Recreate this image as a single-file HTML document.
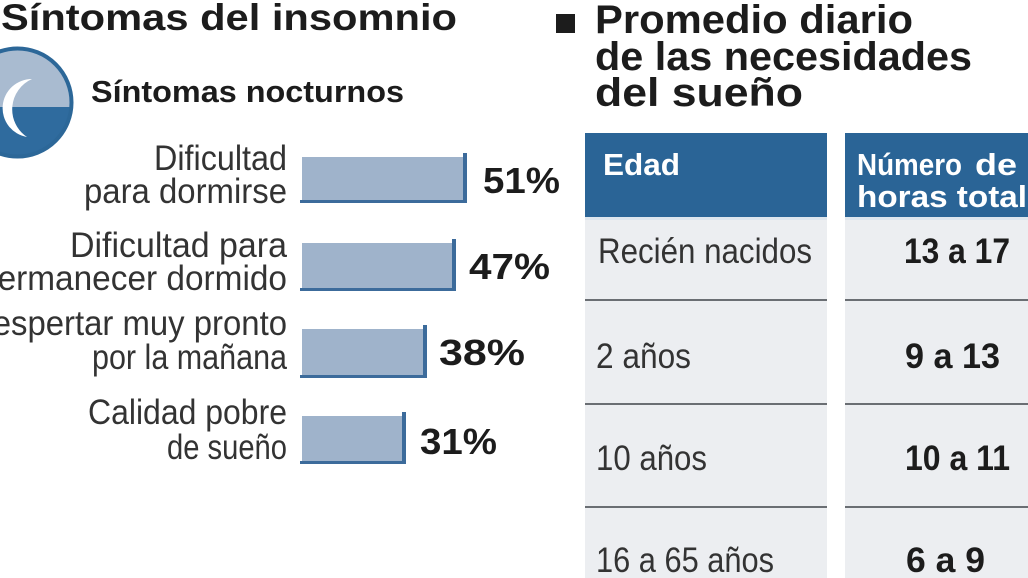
<!DOCTYPE html>
<html>
<head>
<meta charset="utf-8">
<style>
html,body{margin:0;padding:0;background:#fff;width:1028px;height:578px;overflow:hidden;}
svg{display:block}
</style>
</head>
<body>
<svg width="1028" height="578" viewBox="0 0 1028 578" xmlns="http://www.w3.org/2000/svg" font-family="'Liberation Sans', sans-serif">
  <rect width="1028" height="578" fill="#ffffff"/>

  <!-- Left title -->
  <text x="1" y="30" font-size="37" font-weight="bold" fill="#1c1c1c" textLength="456" lengthAdjust="spacingAndGlyphs">Síntomas del insomnio</text>

  <!-- Icon -->
  <defs>
    <clipPath id="circ"><circle cx="17.5" cy="102.5" r="54"/></clipPath>
  </defs>
  <g clip-path="url(#circ)">
    <rect x="-40" y="45" width="120" height="62" fill="#a9bbd0"/>
    <rect x="-40" y="107" width="120" height="60" fill="#2f6b9e"/>
    <path d="M32,79 A29.2,29.2 0 0,0 27,137 A33.2,33.2 0 0,1 32,79 Z" fill="#ffffff"/>
  </g>
  <circle cx="17.5" cy="102.5" r="54" fill="none" stroke="#2c6798" stroke-width="4"/>

  <text x="91" y="102" font-size="31" font-weight="bold" fill="#1c1c1c" textLength="313" lengthAdjust="spacingAndGlyphs">Síntomas nocturnos</text>

  <!-- Bar labels -->
  <g font-size="35" fill="#333333" text-anchor="end">
    <text x="287" y="170" textLength="133" lengthAdjust="spacingAndGlyphs">Dificultad</text>
    <text x="287" y="203" textLength="203" lengthAdjust="spacingAndGlyphs">para dormirse</text>
    <text x="287" y="257" textLength="217" lengthAdjust="spacingAndGlyphs">Dificultad para</text>
    <text x="287" y="290" textLength="308" lengthAdjust="spacingAndGlyphs">permanecer dormido</text>
    <text x="287" y="335" textLength="318" lengthAdjust="spacingAndGlyphs">Despertar muy pronto</text>
    <text x="287" y="369" textLength="195" lengthAdjust="spacingAndGlyphs">por la mañana</text>
    <text x="287" y="424" textLength="199" lengthAdjust="spacingAndGlyphs">Calidad pobre</text>
    <text x="287" y="459" textLength="120" lengthAdjust="spacingAndGlyphs">de sueño</text>
  </g>

  <!-- Bars -->
  <g>
    <rect x="302" y="157" width="163" height="45" fill="#9fb3cb"/>
    <rect x="463" y="153" width="4" height="50" fill="#3c6b9b"/>
    <rect x="300" y="200" width="167" height="3" fill="#3c6b9b"/>

    <rect x="302" y="243" width="152" height="46" fill="#9fb3cb"/>
    <rect x="452" y="239" width="4" height="52" fill="#3c6b9b"/>
    <rect x="300" y="288" width="156" height="3" fill="#3c6b9b"/>

    <rect x="302" y="329" width="123" height="46" fill="#9fb3cb"/>
    <rect x="423" y="325" width="4" height="53" fill="#3c6b9b"/>
    <rect x="300" y="375" width="127" height="3" fill="#3c6b9b"/>

    <rect x="302" y="416" width="102" height="45" fill="#9fb3cb"/>
    <rect x="402" y="412" width="4" height="52" fill="#3c6b9b"/>
    <rect x="300" y="461" width="106" height="3" fill="#3c6b9b"/>
  </g>

  <!-- Percentages -->
  <g font-size="36" font-weight="bold" fill="#1c1c1c">
    <text x="483" y="193" textLength="77" lengthAdjust="spacingAndGlyphs">51%</text>
    <text x="469" y="279" textLength="81" lengthAdjust="spacingAndGlyphs">47%</text>
    <text x="439" y="365" textLength="86" lengthAdjust="spacingAndGlyphs">38%</text>
    <text x="420" y="454" textLength="77" lengthAdjust="spacingAndGlyphs">31%</text>
  </g>

  <!-- Right title -->
  <rect x="556" y="14" width="19" height="19" fill="#1c1c1c"/>
  <g font-size="40" font-weight="bold" fill="#1c1c1c">
    <text x="595" y="33" textLength="318" lengthAdjust="spacingAndGlyphs">Promedio diario</text>
    <text x="595" y="70" textLength="377" lengthAdjust="spacingAndGlyphs">de las necesidades</text>
    <text x="595" y="106" textLength="208" lengthAdjust="spacingAndGlyphs">del sueño</text>
  </g>

  <!-- Table -->
  <rect x="585" y="133" width="242" height="84" fill="#2a6496"/>
  <rect x="845" y="133" width="183" height="84" fill="#2a6496"/>
  <rect x="585" y="217" width="242" height="3" fill="#dde6ee"/>
  <rect x="845" y="217" width="183" height="3" fill="#dde6ee"/>
  <rect x="585" y="220" width="242" height="358" fill="#eceef1"/>
  <rect x="845" y="220" width="183" height="358" fill="#eceef1"/>

  <g fill="#6a6e73">
    <rect x="585" y="299" width="242" height="2"/>
    <rect x="845" y="299" width="183" height="2"/>
    <rect x="585" y="403" width="242" height="2"/>
    <rect x="845" y="403" width="183" height="2"/>
    <rect x="585" y="506" width="242" height="2"/>
    <rect x="845" y="506" width="183" height="2"/>
  </g>

  <g font-size="31" font-weight="bold" fill="#ffffff">
    <text x="603" y="175" textLength="77" lengthAdjust="spacingAndGlyphs">Edad</text>
    <text x="857" y="175" textLength="105" lengthAdjust="spacingAndGlyphs">Número</text>
    <text x="975" y="175" textLength="42" lengthAdjust="spacingAndGlyphs">de</text>
    <text x="857" y="207" textLength="207" lengthAdjust="spacingAndGlyphs">horas totales</text>
  </g>

  <g font-size="35" fill="#333333">
    <text x="598" y="263" textLength="214" lengthAdjust="spacingAndGlyphs">Recién nacidos</text>
    <text x="596" y="368" textLength="95" lengthAdjust="spacingAndGlyphs">2 años</text>
    <text x="596" y="470" textLength="111" lengthAdjust="spacingAndGlyphs">10 años</text>
    <text x="596" y="572" textLength="178" lengthAdjust="spacingAndGlyphs">16 a 65 años</text>
  </g>

  <g font-size="35" font-weight="bold" fill="#1c1c1c">
    <text x="904" y="263" textLength="106" lengthAdjust="spacingAndGlyphs">13 a 17</text>
    <text x="905" y="368" textLength="95" lengthAdjust="spacingAndGlyphs">9 a 13</text>
    <text x="905" y="470" textLength="105" lengthAdjust="spacingAndGlyphs">10 a 11</text>
    <text x="906" y="572" textLength="79" lengthAdjust="spacingAndGlyphs">6 a 9</text>
  </g>
</svg>
</body>
</html>
